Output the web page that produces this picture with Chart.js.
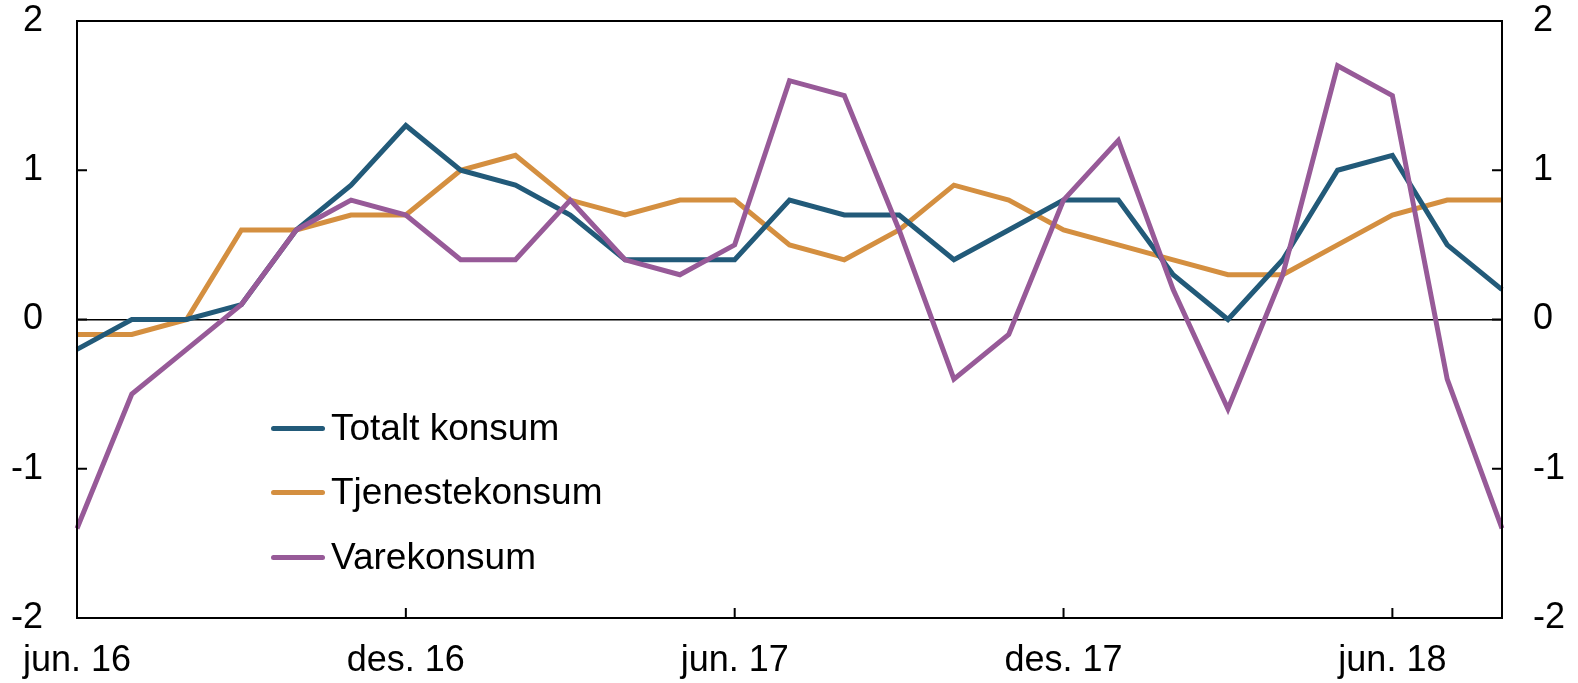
<!DOCTYPE html>
<html>
<head>
<meta charset="utf-8">
<script src="https://cdn.jsdelivr.net/npm/chart.js@4/dist/chart.umd.min.js"></script>
<style>
  body { margin: 0; background: #fff; }
  #wrap { position: relative; width: 1578px; height: 683px; font-family: "Liberation Sans", Arial, sans-serif; }
  #legend { position: absolute; left: 271px; top: 0; }
  .row { position: absolute; left: 0; display: flex; align-items: center; white-space: nowrap; font-size: 37px; color: #000; height: 46px; }
  .sw { width: 54px; height: 5px; border-radius: 3px; margin-right: 6px; }
</style>
</head>
<body>
<div id="wrap">
  <canvas id="chart" width="1578" height="683"></canvas>
  <div id="legend"></div>
</div>
<script>
// monthly labels jun. 16 - aug. 18
const months = [
  "jun. 16", "jul. 16", "aug. 16", "sep. 16", "okt. 16", "nov. 16", "des. 16",
  "jan. 17", "feb. 17", "mar. 17", "apr. 17", "mai 17", "jun. 17",
  "jul. 17", "aug. 17", "sep. 17", "okt. 17", "nov. 17", "des. 17",
  "jan. 18", "feb. 18", "mar. 18", "apr. 18", "mai 18", "jun. 18",
  "jul. 18", "aug. 18"
];
const totalt = [-0.2, 0, 0, 0.1, 0.6, 0.9, 1.3, 1.0, 0.9, 0.7, 0.4, 0.4, 0.4,
  0.8, 0.7, 0.7, 0.4, 0.6, 0.8, 0.8, 0.3, 0, 0.4, 1.0, 1.1, 0.5, 0.2];
const tjeneste = [-0.1, -0.1, 0, 0.6, 0.6, 0.7, 0.7, 1.0, 1.1, 0.8, 0.7, 0.8, 0.8,
  0.5, 0.4, 0.6, 0.9, 0.8, 0.6, 0.5, 0.4, 0.3, 0.3, 0.5, 0.7, 0.8, 0.8];
const vare = [-1.4, -0.5, -0.2, 0.1, 0.6, 0.8, 0.7, 0.4, 0.4, 0.8, 0.4, 0.3, 0.5,
  1.6, 1.5, 0.6, -0.4, -0.1, 0.8, 1.2, 0.2, -0.6, 0.3, 1.7, 1.5, -0.4, -1.4];
const yTicks = [-2, -1, 0, 1, 2];
const seriesNames = ["Totalt konsum", "Tjenestekonsum", "Varekonsum"];
const colors = ["#225a79", "#d48f40", "#975a98"];

const font = { family: "'Liberation Sans', Arial, sans-serif", size: 36 };

// frame + inward tick marks
const framePlugin = {
  id: "frame",
  afterDraw(chart) {
    const ctx = chart.ctx;
    const a = chart.chartArea;
    const x = chart.scales.x;
    const y = chart.scales.y;
    ctx.save();
    ctx.strokeStyle = "#000";
    ctx.lineWidth = 2;
    ctx.strokeRect(a.left, a.top, a.right - a.left, a.bottom - a.top);
    ctx.beginPath();
    yTicks.forEach((v) => {
      const py = y.getPixelForValue(v);
      ctx.moveTo(a.left, py); ctx.lineTo(a.left + 10, py);
      ctx.moveTo(a.right, py); ctx.lineTo(a.right - 10, py);
    });
    months.forEach((m, i) => {
      if (i % 6 === 0 && i > 0) {
        const px = x.getPixelForValue(i);
        ctx.moveTo(px, a.bottom); ctx.lineTo(px, a.bottom - 10);
      }
    });
    ctx.stroke();
    ctx.restore();
  }
};

function fitY(width) {
  return (s) => {
    s.width = width;
    s.paddingTop = 21;
    s.paddingBottom = 0;
  };
}

new Chart(document.getElementById("chart"), {
  type: "line",
  data: {
    labels: months,
    datasets: [
      { label: seriesNames[0], data: totalt, borderColor: colors[0], borderWidth: 5, order: 1 },
      { label: seriesNames[1], data: tjeneste, borderColor: colors[1], borderWidth: 5, order: 2 },
      { label: seriesNames[2], data: vare, borderColor: colors[2], borderWidth: 5, order: 0 }
    ]
  },
  options: {
    responsive: false,
    animation: false,
    layout: { padding: 0 },
    elements: {
      line: { tension: 0, fill: false, borderJoinStyle: "miter" },
      point: { radius: 0 }
    },
    plugins: { legend: { display: false }, tooltip: { enabled: false } },
    scales: {
      x: {
        offset: false,
        grid: { display: false, drawTicks: false },
        border: { display: false },
        ticks: {
          autoSkip: false, maxRotation: 0, padding: 21, color: "#000", font: font,
          callback: (v, i) => (i % 6 === 0 ? months[i] : "")
        },
        afterFit: (s) => { s.height = 65; }
      },
      y: {
        position: "left", min: -2, max: 2,
        grid: {
          drawTicks: false,
          color: (c) => (c.tick && c.tick.value === 0 ? "#000" : "rgba(0,0,0,0)"),
          lineWidth: 1.5
        },
        border: { display: false },
        ticks: { stepSize: 1, padding: 34, color: "#000", font: font },
        afterFit: fitY(77)
      },
      y2: {
        position: "right", min: -2, max: 2,
        grid: { display: false, drawTicks: false },
        border: { display: false },
        ticks: { stepSize: 1, padding: 31, color: "#000", font: font },
        afterFit: fitY(76)
      }
    }
  },
  plugins: [framePlugin]
});

// legend inside the plot
const legendRows = [428, 492, 557];
const legend = document.getElementById("legend");
seriesNames.forEach((name, i) => {
  const row = document.createElement("div");
  row.className = "row";
  row.style.top = (legendRows[i] - 23) + "px";
  const sw = document.createElement("div");
  sw.className = "sw";
  sw.style.background = colors[i];
  row.appendChild(sw);
  const t = document.createElement("span");
  t.textContent = name;
  row.appendChild(t);
  legend.appendChild(row);
});
</script>
</body>
</html>
